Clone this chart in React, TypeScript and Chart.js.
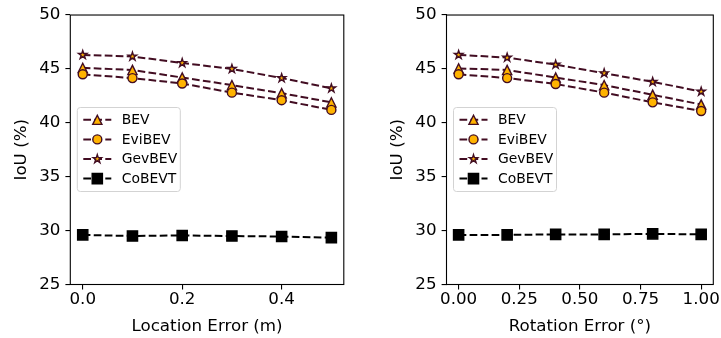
import React, { useEffect, useRef } from "react";
import { Chart, registerables } from "chart.js";

Chart.register(...registerables);

// ---- data ----
const locationErrors = [0, 0.1, 0.2, 0.3, 0.4, 0.5];
const rotationErrors = [0, 0.2, 0.4, 0.6, 0.8, 1.0];

const locBEV = [45.1, 44.9, 44.2, 43.5, 42.75, 41.9];
const locEviBEV = [44.5, 44.15, 43.65, 42.8, 42.1, 41.2];
const locGevBEV = [46.3, 46.15, 45.55, 45.0, 44.15, 43.2];
const locCoBEVT = [29.6, 29.5, 29.55, 29.5, 29.45, 29.35];

const rotBEV = [45.05, 44.9, 44.2, 43.5, 42.6, 41.7];
const rotEviBEV = [44.5, 44.15, 43.6, 42.8, 41.9, 41.1];
const rotGevBEV = [46.3, 46.05, 45.4, 44.6, 43.8, 42.9];
const rotCoBEVT = [29.6, 29.6, 29.65, 29.65, 29.7, 29.65];

const seriesLabels = ["BEV", "EviBEV", "GevBEV", "CoBEVT"];
const locTicks = [0, 0.2, 0.4];
const rotTicks = [0, 0.25, 0.5, 0.75, 1.0];
const yTicks = [25, 30, 35, 40, 45, 50];

const FONT = "'DejaVu Sans', sans-serif";
const FS = 16.7; // ticks and axis titles
const LFS = 13.9; // legend
const ORANGE = "#FFB300";
const MAROON = "#420D22";

const markerKinds = ["triangle", "circle", "star", "square"];
const markerSizes = [9.2, 9.0, 8.8, 10.2];
const markerFills = [ORANGE, ORANGE, ORANGE, "#000"];
const lineColors = [MAROON, MAROON, MAROON, "#000"];

function drawMarker(g: CanvasRenderingContext2D, kind: string, cx: number, cy: number, size: number, fill: string, edge: string, lw: number) {
  const r = size / 2;
  g.save();
  g.setLineDash([]);
  g.beginPath();
  if (kind === "circle") {
    g.arc(cx, cy, r, 0, Math.PI * 2);
  } else if (kind === "triangle") {
    g.moveTo(cx, cy - r);
    g.lineTo(cx - r, cy + r);
    g.lineTo(cx + r, cy + r);
  } else if (kind === "star") {
    const ri = r * 0.381966;
    for (let i = 0; i < 10; i++) {
      const a = -Math.PI / 2 + (i * Math.PI) / 5;
      const rr = i % 2 === 0 ? r : ri;
      const px = cx + rr * Math.cos(a), py = cy + rr * Math.sin(a);
      if (i === 0) g.moveTo(px, py); else g.lineTo(px, py);
    }
  } else {
    g.rect(cx - r, cy - r, 2 * r, 2 * r);
  }
  g.closePath();
  g.fillStyle = fill;
  g.fill();
  g.lineWidth = lw;
  g.lineJoin = "miter";
  g.miterLimit = 10;
  g.strokeStyle = edge;
  g.stroke();
  g.restore();
}

const markerPlugin = {
  id: "mplMarkers",
  afterDatasetDraw(chart: any, args: any) {
    const ds = chart.data.datasets[args.index];
    const ctx = chart.ctx;
    args.meta.data.forEach((el: any) => {
      drawMarker(ctx, ds.markerKind, el.x, el.y, ds.markerSize, ds.markerFill, ds.borderColor, 1.4);
    });
  },
};

const framePlugin = {
  id: "frame",
  afterDraw(chart: any) {
    const { ctx, chartArea } = chart;
    ctx.save();
    ctx.strokeStyle = "#000";
    ctx.lineWidth = 1.1;
    ctx.strokeRect(chartArea.left, chartArea.top, chartArea.right - chartArea.left, chartArea.bottom - chartArea.top);
    // legend
    const x0 = chartArea.left + 7;
    const y0 = chartArea.top + 92.5;
    const w = 103, h = 84, rad = 3;
    ctx.beginPath();
    ctx.moveTo(x0 + rad, y0);
    ctx.lineTo(x0 + w - rad, y0);
    ctx.quadraticCurveTo(x0 + w, y0, x0 + w, y0 + rad);
    ctx.lineTo(x0 + w, y0 + h - rad);
    ctx.quadraticCurveTo(x0 + w, y0 + h, x0 + w - rad, y0 + h);
    ctx.lineTo(x0 + rad, y0 + h);
    ctx.quadraticCurveTo(x0, y0 + h, x0, y0 + h - rad);
    ctx.lineTo(x0, y0 + rad);
    ctx.quadraticCurveTo(x0, y0, x0 + rad, y0);
    ctx.closePath();
    ctx.fillStyle = "rgba(255,255,255,0.8)";
    ctx.fill();
    ctx.strokeStyle = "#d3d3d3";
    ctx.lineWidth = 1;
    ctx.stroke();
    const dsList = chart.data.datasets;
    dsList.forEach((ds: any, i: number) => {
      const y = y0 + 12.3 + i * 19.6;
      ctx.save();
      ctx.strokeStyle = ds.borderColor;
      ctx.lineWidth = ds.borderWidth;
      ctx.setLineDash(ds.borderDash);
      ctx.beginPath();
      ctx.moveTo(x0 + 6, y);
      ctx.lineTo(x0 + 34, y);
      ctx.stroke();
      ctx.restore();
      drawMarker(ctx, ds.markerKind, x0 + 20, y, ds.markerSize, ds.markerFill, ds.borderColor, 1.4);
      ctx.fillStyle = "#000";
      ctx.font = `${LFS}px ${FONT}`;
      ctx.textAlign = "left";
      ctx.textBaseline = "middle";
      ctx.fillText(ds.label, x0 + 44.5, y + 0.5);
    });
    ctx.restore();
  },
};

function buildConfig(xs: number[], series: number[][], xTicks: number[], xMin: number, xMax: number, xTitle: string, decimals: number, padRight: number, yWidth: number) {
  const datasets = series.map((vals, i) => ({
    label: seriesLabels[i],
    data: xs.map((x, j) => ({ x, y: vals[j] })),
    borderColor: lineColors[i],
    backgroundColor: lineColors[i],
    borderWidth: 2,
    borderDash: [7.7, 3.3],
    pointRadius: 0,
    pointHoverRadius: 0,
    markerKind: markerKinds[i],
    markerSize: markerSizes[i],
    markerFill: markerFills[i],
    fill: false,
    tension: 0,
    order: 4 - i,
    clip: false as any,
  }));
  const tickFont = { family: FONT, size: FS };
  return {
    type: "line" as const,
    data: { datasets },
    options: {
      animation: false,
      responsive: false,
      maintainAspectRatio: false,
      events: [],
      layout: { padding: { left: 0, top: 14.5, right: padRight, bottom: 0 } },
      plugins: { legend: { display: false }, tooltip: { enabled: false } },
      scales: {
        x: {
          type: "linear",
          min: xMin,
          max: xMax,
          afterBuildTicks: (scale: any) => {
            scale.ticks = xTicks.map((v) => ({ value: v }));
          },
          afterFit: (scale: any) => {
            scale.height = 53.5;
          },
          ticks: {
            color: "#000",
            font: tickFont,
            padding: 0,
            maxRotation: 0,
            autoSkip: false,
            callback: (v: any) => Number(v).toFixed(decimals),
          },
          grid: { drawOnChartArea: false, drawTicks: true, tickLength: 4.9, color: "#000", lineWidth: 1.1 },
          border: { display: false },
          title: { display: true, text: xTitle, color: "#000", font: tickFont, padding: { top: 0, bottom: 1 } },
        },
        y: {
          type: "linear",
          min: yTicks[0],
          max: yTicks[yTicks.length - 1],
          afterBuildTicks: (scale: any) => {
            scale.ticks = yTicks.map((v) => ({ value: v }));
          },
          afterFit: (scale: any) => {
            scale.width = yWidth;
          },
          ticks: { color: "#000", font: tickFont, padding: 5, callback: (v: any) => String(v) },
          grid: { drawOnChartArea: false, drawTicks: true, tickLength: 4.9, color: "#000", lineWidth: 1.1 },
          border: { display: false },
          title: { display: true, text: "IoU (%)", color: "#000", font: tickFont, padding: { top: 11.5, bottom: 0 } },
        },
      },
    },
    plugins: [markerPlugin, framePlugin],
  };
}

export default function App() {
  const ref1 = useRef<HTMLCanvasElement>(null);
  const ref2 = useRef<HTMLCanvasElement>(null);
  useEffect(() => {
    const c1 = new Chart(
      ref1.current!,
      buildConfig(locationErrors, [locBEV, locEviBEV, locGevBEV, locCoBEVT], locTicks, -0.025, 0.525, "Location Error (m)", 1, 16.2, 70.3) as any
    );
    const c2 = new Chart(
      ref2.current!,
      buildConfig(rotationErrors, [rotBEV, rotEviBEV, rotGevBEV, rotCoBEVT], rotTicks, -0.05, 1.05, "Rotation Error (°)", 2, 7.7, 70.5) as any
    );
    return () => {
      c1.destroy();
      c2.destroy();
    };
  }, []);
  return (
    <div style={{ position: "fixed", left: 0, top: 0, width: 721, height: 338, background: "#fff" }}>
      <canvas ref={ref1} width={360} height={338} style={{ position: "absolute", left: 0, top: 0, width: 360, height: 338 }} />
      <canvas ref={ref2} width={345} height={338} style={{ position: "absolute", left: 376, top: 0, width: 345, height: 338 }} />
    </div>
  );
}
